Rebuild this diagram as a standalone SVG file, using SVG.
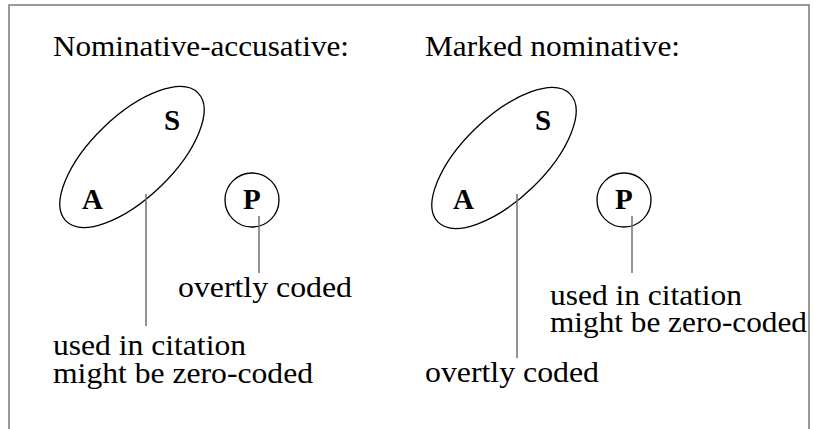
<svg xmlns="http://www.w3.org/2000/svg" width="813" height="429" viewBox="0 0 813 429">
<style>
.frame{fill:none;stroke:#7a7a7a;stroke-width:1.5}
.shape{fill:none;stroke:#000;stroke-width:1.3}
.lead{fill:none;stroke:#6e6e6e;stroke-width:1.5}
.t{font-family:"Liberation Serif","Times New Roman",serif;font-size:30px;fill:#000}
.b{font-family:"Liberation Serif","Times New Roman",serif;font-size:29px;font-weight:bold;fill:#000}
</style>
<rect width="813" height="429" fill="#fff"/>
<path class="frame" d="M9,429 V5 H809 V429"/>
<g id="title-left"><text class="t" x="53" y="56" textLength="296" lengthAdjust="spacingAndGlyphs">Nominative-accusative:</text></g>
<g id="title-right"><text class="t" x="425" y="56" textLength="255" lengthAdjust="spacingAndGlyphs">Marked nominative:</text></g>
<g id="left-AS">
<ellipse class="shape" cx="132" cy="157" rx="92" ry="41" transform="rotate(-44 132 157)"/>
<text class="b" x="164" y="130">S</text>
<text class="b" x="82" y="209">A</text>
</g>
<g id="left-P">
<circle class="shape" cx="252" cy="200" r="27"/>
<text class="b" x="243" y="209">P</text>
</g>
<g id="right-AS">
<ellipse class="shape" cx="504" cy="158" rx="92" ry="41" transform="rotate(-44 504 158)"/>
<text class="b" x="535" y="130">S</text>
<text class="b" x="453" y="209">A</text>
</g>
<g id="right-P">
<circle class="shape" cx="624" cy="200" r="27"/>
<text class="b" x="615" y="209">P</text>
</g>
<g id="connectors">
<line class="lead" x1="146" y1="194" x2="146" y2="326"/>
<line class="lead" x1="259" y1="216" x2="259" y2="273"/>
<line class="lead" x1="517" y1="194" x2="517" y2="358"/>
<line class="lead" x1="632" y1="216" x2="632" y2="273"/>
</g>
<g id="label-left-AS"><text class="t" x="53" y="355" textLength="193" lengthAdjust="spacingAndGlyphs">used in citation</text><text class="t" x="53" y="383" textLength="260" lengthAdjust="spacingAndGlyphs">might be zero-coded</text></g>
<g id="label-left-P"><text class="t" x="178" y="297" textLength="174" lengthAdjust="spacingAndGlyphs">overtly coded</text></g>
<g id="label-right-AS"><text class="t" x="425" y="382" textLength="174" lengthAdjust="spacingAndGlyphs">overtly coded</text></g>
<g id="label-right-P"><text class="t" x="550" y="305" textLength="192" lengthAdjust="spacingAndGlyphs">used in citation</text><text class="t" x="550" y="332" textLength="257" lengthAdjust="spacingAndGlyphs">might be zero-coded</text></g>
</svg>
